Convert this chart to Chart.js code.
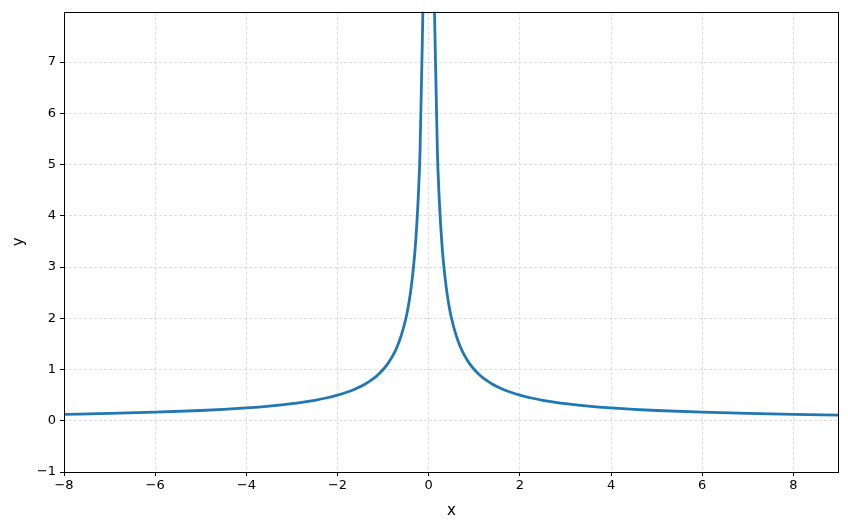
<!DOCTYPE html>
<html>
<head>
	<meta charset="utf-8">
	<title>y = 1/|x|</title>
	<script src="https://cdn.jsdelivr.net/npm/chart.js"></script>
	<style>
		html, body { margin:0; padding:0; background:#fff; }
		#wrap { width:848px; height:529px; }
	</style>
</head>
<body>
<div id="wrap"><canvas id="curveChart"></canvas></div>
<script>
// Points (left branch, gap at 0, right branch)
const xValues = [
	-8, -7, -6, -5, -4.5, -4, -3.5, -3, -2.75, -2.5, -2.25, -2, -1.8, -1.6, -1.4, -1.3, -1.2, -1.1, -1,
	-0.9, -0.8, -0.7, -0.6, -0.5, -0.45, -0.4, -0.35, -0.3, -0.26, -0.23, -0.19, -0.12,
	0,
	0.12, 0.19, 0.23, 0.26, 0.3, 0.35, 0.4, 0.45, 0.5, 0.6, 0.7, 0.8, 0.9,
	1, 1.1, 1.2, 1.3, 1.4, 1.6, 1.8, 2, 2.25, 2.5, 2.75, 3, 3.5, 4, 4.5, 5, 6, 7, 8, 9
];
const yValues = [
	0.125, 0.143, 0.167, 0.2, 0.222, 0.25, 0.286, 0.333, 0.364, 0.4, 0.444, 0.5, 0.556, 0.625, 0.714, 0.769, 0.833, 0.909, 1.0,
	1.11, 1.25, 1.43, 1.67, 2.0, 2.22, 2.5, 2.86, 3.33, 3.85, 4.35, 5.26, 8.33,
	null,
	8.33, 5.26, 4.35, 3.85, 3.33, 2.86, 2.5, 2.22, 2.0, 1.67, 1.43, 1.25, 1.11,
	1.0, 0.909, 0.833, 0.769, 0.714, 0.625, 0.556, 0.5, 0.444, 0.4, 0.364, 0.333, 0.286, 0.25, 0.222, 0.2, 0.167, 0.143, 0.125, 0.111
];
const xTicks = [-8, -6, -4, -2, 0, 2, 4, 6, 8];
const yTicks = [-1, 0, 1, 2, 3, 4, 5, 6, 7];

const points = xValues.map((x, i) => ({ x: x, y: yValues[i] }));

function minusSign(v) {
	return v < 0 ? "\u2212" + Math.abs(v) : String(v);
}

// matplotlib style frame on all four sides
const frame = {
	id: "frame",
	afterDatasetsDraw(chart) {
		const a = chart.chartArea, c = chart.ctx;
		c.save();
		c.strokeStyle = "#000";
		c.lineWidth = 1;
		c.strokeRect(Math.round(a.left) + 0.5, Math.round(a.top) + 0.5,
			Math.round(a.right - a.left) - 1, Math.round(a.bottom - a.top));
		c.restore();
	}
};

Chart.defaults.font.family = "'DejaVu Sans', sans-serif";
Chart.defaults.color = "#000";

new Chart(document.getElementById("curveChart"), {
	type: "line",
	data: {
		datasets: [{
			data: points,
			borderColor: "#1f77b4",
			borderWidth: 2.8,
			pointRadius: 0,
			fill: false,
			cubicInterpolationMode: "monotone",
			spanGaps: false
		}]
	},
	options: {
		responsive: true,
		maintainAspectRatio: false,
		animation: false,
		layout: { padding: { left: 0, right: 9, top: 9, bottom: 0 } },
		plugins: { legend: { display: false }, tooltip: { enabled: false } },
		scales: {
			x: {
				type: "linear",
				min: -8,
				max: 9,
				afterBuildTicks: axis => { axis.ticks = xTicks.map(v => ({ value: v })); },
				afterFit: axis => { axis.height = 57; },
				ticks: { font: { size: 13 }, padding: 2, maxRotation: 0, callback: v => minusSign(v) },
				grid: { color: "#d0d0d0", lineWidth: 0.7, tickColor: "#000", tickLength: 4, tickWidth: 1, tickBorderDash: [] },
				border: { display: false, dash: [3, 2] },
				title: { display: true, text: "x", font: { size: 15 }, padding: { top: 9, bottom: 9 } }
			},
			y: {
				type: "linear",
				min: -1,
				max: 7.98,
				afterBuildTicks: axis => { axis.ticks = yTicks.map(v => ({ value: v })); },
				afterFit: axis => { axis.width = 64; },
				ticks: { font: { size: 13 }, padding: 4, callback: v => minusSign(v) },
				grid: { color: "#d0d0d0", lineWidth: 0.7, tickColor: "#000", tickLength: 4, tickWidth: 1, tickBorderDash: [] },
				border: { display: false, dash: [3, 2] },
				title: { display: true, text: "y", font: { size: 15 }, padding: { top: 10, bottom: 10 } }
			}
		}
	},
	plugins: [frame]
});
</script>
</body>
</html>
